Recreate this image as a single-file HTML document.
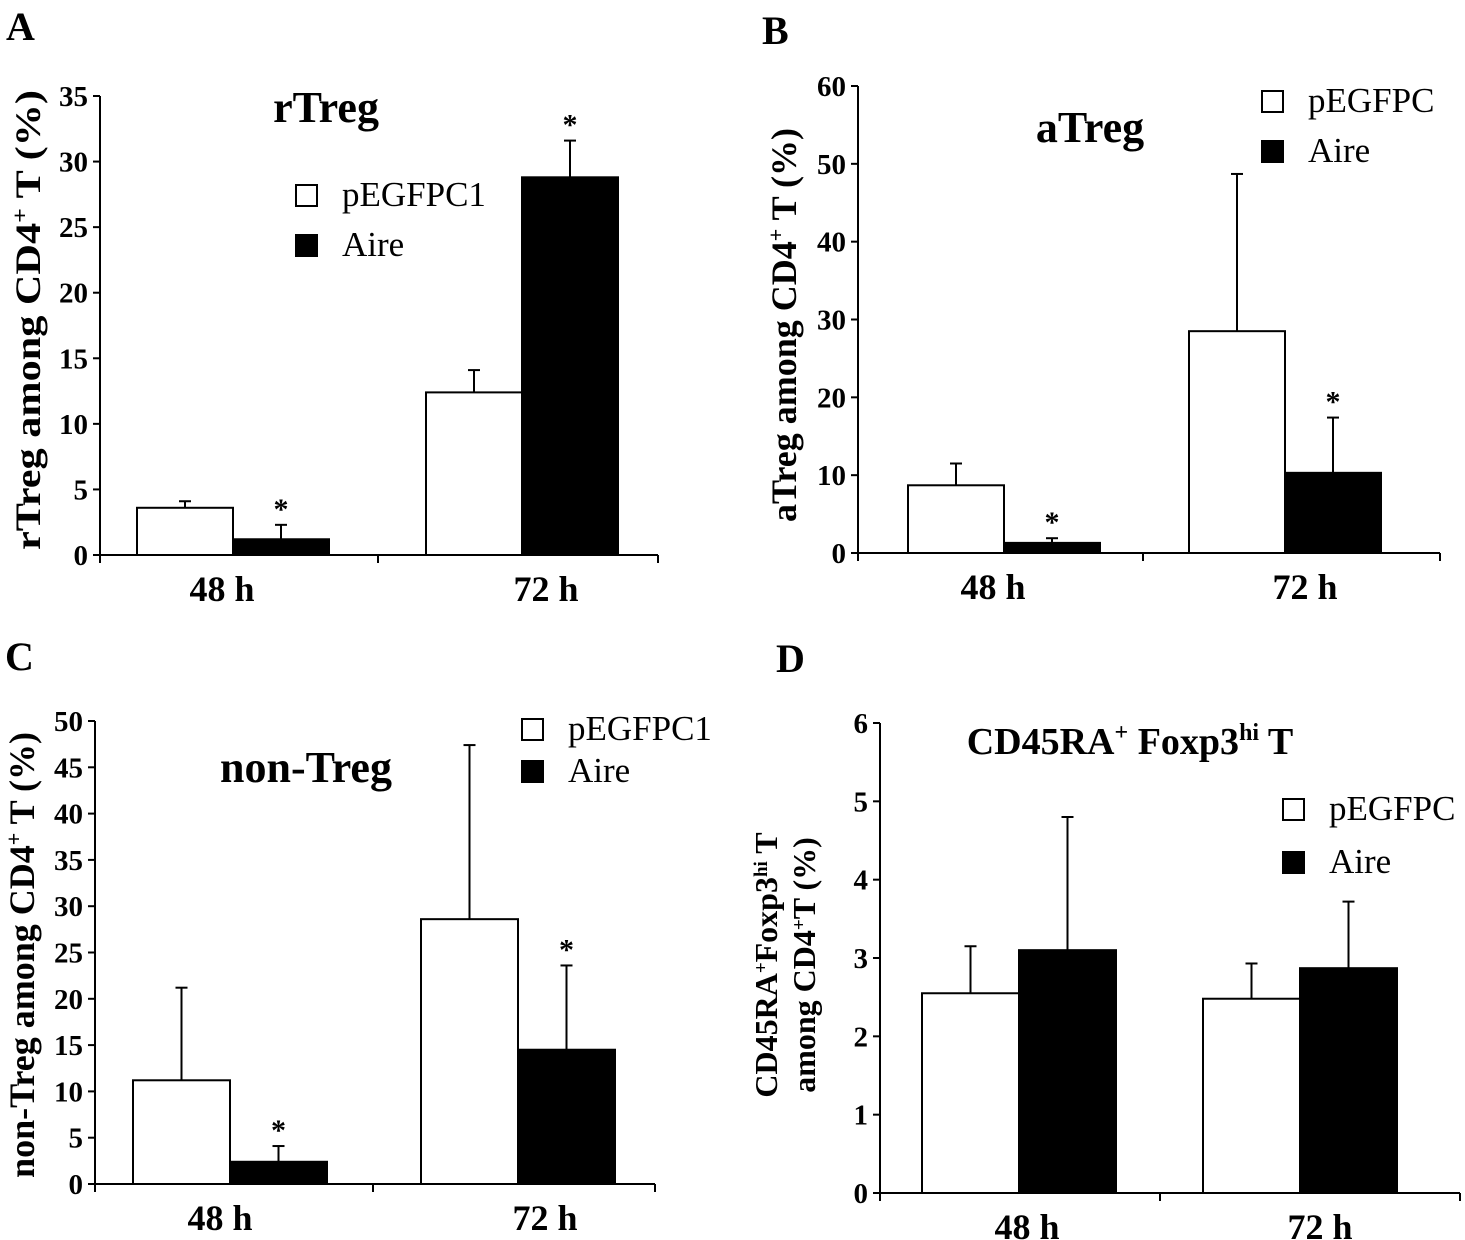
<!DOCTYPE html>
<html><head><meta charset="utf-8"><style>
html,body{margin:0;padding:0;background:#fff}
svg{display:block;font-family:"Liberation Serif",serif}
</style></head><body>
<svg id="c" width="1465" height="1240" viewBox="0 0 1465 1240"></svg>
<script>
const categories=["48 h","72 h"];
const aCtrl=[3.6,12.4], aCtrlErr=[0.5,1.7], aAire=[1.2,28.8], aAireErr=[1.1,2.8];
const bCtrl=[8.7,28.5], bCtrlErr=[2.8,20.2], bAire=[1.3,10.3], bAireErr=[0.6,7.1];
const cCtrl=[11.2,28.6], cCtrlErr=[10.0,18.8], cAire=[2.4,14.5], cAireErr=[1.7,9.1];
const dCtrl=[2.55,2.48], dCtrlErr=[0.6,0.45], dAire=[3.1,2.87], dAireErr=[1.7,0.85];
const aTicks=[0,5,10,15,20,25,30,35], bTicks=[0,10,20,30,40,50,60], cTicks=[0,5,10,15,20,25,30,35,40,45,50], dTicks=[0,1,2,3,4,5,6];
const aStars=[1,1], bStars=[1,1], cStars=[1,1], dStars=[0,0];
const NS="http://www.w3.org/2000/svg";
const svg=document.getElementById('c');
function mk(tag,attrs,parent,text){const e=document.createElementNS(NS,tag);for(const k in attrs)e.setAttribute(k,attrs[k]);if(text!==undefined)e.textContent=text;(parent||svg).appendChild(e);return e;}
function panel(p){
  const g=mk('g',{});
  
  
  const y=v=>p.y0-(v-p.ticks[0])/(p.ticks[p.ticks.length-1]-p.ticks[0])*(p.y0-p.y1);
  const xa=mk('line',{x1:p.ax,y1:p.y0,x2:p.xEnd,y2:p.y0,stroke:'#000','stroke-width':2},g);
  
  const ya=mk('line',{x1:p.ax,y1:p.y0,x2:p.ax,y2:p.y1,stroke:'#000','stroke-width':2},g);
  
  p.ticks.forEach(t=>{
    mk('line',{x1:p.ax-7,y1:y(t),x2:p.ax,y2:y(t),stroke:'#000','stroke-width':2},g);
    const tl=mk('text',{x:p.ax-12,y:y(t)+10,'text-anchor':'end','font-size':29,'font-weight':'bold'},g,t);
    
  });
  [p.ax,p.mid,p.xEnd].forEach(x=>mk('line',{x1:x,y1:p.y0,x2:x,y2:p.y0+8,stroke:'#000','stroke-width':2},g));
  categories.forEach((c,i)=>{
    const l=p.groups[i];
    const xl=mk('text',{x:p.labX[i],y:p.y0+46,'text-anchor':'middle','font-size':36,'font-weight':'bold'},g,c);
    
    [[p.ctrl,p.ctrlE,'#fff',0],[p.aire,p.aireE,'#000',1]].forEach(([v,e,f,k])=>{
      const bx=l+k*p.bw, top=y(v[i]);
      const b=mk('rect',{x:bx,y:top,width:p.bw,height:p.y0-top,fill:f,stroke:'#000','stroke-width':2},g);
      
      
      const cx=bx+p.bw/2, et=y(v[i]+e[i]);
      mk('line',{x1:cx,y1:top,x2:cx,y2:et,stroke:'#000','stroke-width':2},g);
      mk('line',{x1:cx-6,y1:et,x2:cx+6,y2:et,stroke:'#000','stroke-width':2},g);
      if(k===1&&p.stars[i]){const s=mk('text',{x:cx,y:et-6,'text-anchor':'middle','font-size':30,'font-weight':'bold'},g,'*');
        }
    });
  });
  const lt=mk('text',{x:p.lx,y:p.ly,'font-size':40,'font-weight':'bold'},g,'');
  lt.textContent=p.id;
  const tt=mk('text',{x:p.tx,y:p.ty,'text-anchor':'middle','font-size':p.tSize||44,'font-weight':'bold'},g);
  
  tt.innerHTML=p.title;
  [[p.leg[0],p.leg[1],'#fff',p.legName],[p.leg[0],p.leg[1]+p.leg[2],'#000','Aire']].forEach(([x,yy,f,n])=>{
    const le=mk('g',{},g);
    mk('rect',{x:x,y:yy-21,width:21,height:21,fill:f,stroke:'#000','stroke-width':2},le);
    mk('text',{x:x+46,y:yy,'font-size':35},le,n);
  });
  const yt=mk('text',{transform:`translate(${p.ytx},${p.ytc}) rotate(-90)`,'text-anchor':'middle','font-size':p.ytSize||36,'font-weight':'bold'},g);
  
  yt.innerHTML=p.ytitle;
}
panel({id:'A',ax:100,y0:555,y1:96,xEnd:658,mid:378,groups:[137,426],bw:96,labX:[222,546],ticks:aTicks,ctrl:aCtrl,ctrlE:aCtrlErr,aire:aAire,aireE:aAireErr,stars:aStars,
 lx:6,ly:40,tx:326,ty:122,title:'rTreg',leg:[296,206,50],legName:'pEGFPC1',ytx:40,ytc:320,
 ytitle:'<tspan textLength="460" lengthAdjust="spacingAndGlyphs">rTreg among CD4<tspan dy="-13" font-size="22">+</tspan><tspan dy="13"> T  (%)</tspan></tspan>'});
panel({id:'B',ax:858,y0:553,y1:86,xEnd:1440,mid:1143,groups:[908,1189],bw:96,labX:[993,1305],ticks:bTicks,ctrl:bCtrl,ctrlE:bCtrlErr,aire:bAire,aireE:bAireErr,stars:bStars,
 lx:762,ly:44,tx:1090,ty:142,title:'aTreg',leg:[1262,112,50],legName:'pEGFPC',ytx:796,ytc:325,
 ytitle:'aTreg among CD4<tspan dy="-13" font-size="22">+</tspan><tspan dy="13"> T  (%)</tspan>'});
panel({id:'C',ax:95,y0:1184,y1:721,xEnd:655,mid:373,groups:[133,421],bw:97,labX:[220,545],ticks:cTicks,ctrl:cCtrl,ctrlE:cCtrlErr,aire:cAire,aireE:cAireErr,stars:cStars,
 lx:5,ly:670,tx:306,ty:782,title:'non-Treg',leg:[522,740,42],legName:'pEGFPC1',ytx:34,ytc:955,
 ytitle:'non-Treg among CD4<tspan dy="-13" font-size="22">+</tspan><tspan dy="13"> T  (%)</tspan>'});
panel({id:'D',ax:880,y0:1193,y1:723,xEnd:1460,mid:1160,groups:[922,1203],bw:97,labX:[1027,1320],ticks:dTicks,ctrl:dCtrl,ctrlE:dCtrlErr,aire:dAire,aireE:dAireErr,stars:dStars,
 lx:776,ly:672,tx:1130,ty:754,tSize:38,title:'CD45RA<tspan dy="-14" font-size="24">+</tspan><tspan dy="14"> Foxp3</tspan><tspan dy="-14" font-size="24">hi</tspan><tspan dy="14"> T</tspan>',leg:[1283,820,53],legName:'pEGFPC',ytx:795,ytc:965,ytSize:32,
 ytitle:'<tspan x="0" dy="-18">CD45RA<tspan dy="-10" font-size="19">+</tspan><tspan dy="10">Foxp3</tspan><tspan dy="-10" font-size="19">hi</tspan><tspan dy="10"> T</tspan></tspan><tspan x="0" dy="38">among CD4<tspan dy="-10" font-size="19">+</tspan><tspan dy="10">T  (%)</tspan></tspan>'});
</script>
</body></html>
